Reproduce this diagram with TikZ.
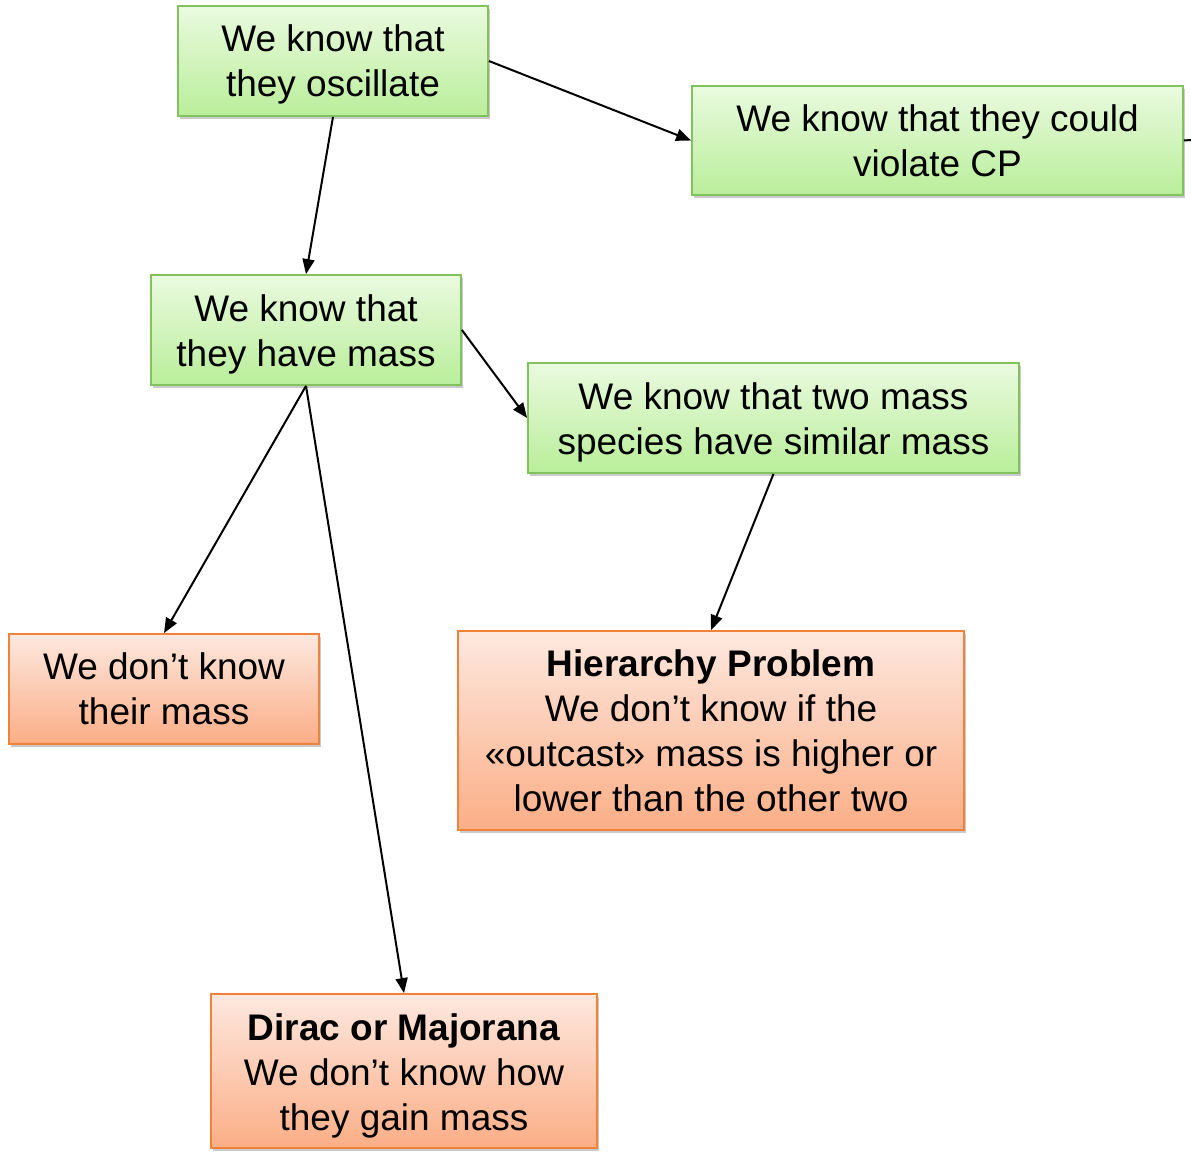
\documentclass[tikz,border=0pt]{standalone}
\usepackage{fontspec}
\setmainfont{Liberation Sans}
\usetikzlibrary{arrows.meta,shadows}
\definecolor{gtop}{HTML}{EAFADF}
\definecolor{gbot}{HTML}{B9EE9A}
\definecolor{gline}{HTML}{82C25E}
\definecolor{otop}{HTML}{FDE8DF}
\definecolor{obot}{HTML}{FBAE86}
\definecolor{oline}{HTML}{F0823A}
\tikzset{
  box/.style={draw, line width=1.8pt, align=center, inner sep=0pt,
    font=\fontsize{37}{45}\selectfont,
    drop shadow={shadow xshift=2pt, shadow yshift=-3pt, opacity=0.35, fill=black!60}},
  gbox/.style={box, draw=gline, top color=gtop, bottom color=gbot},
  obox/.style={box, draw=oline, top color=otop, bottom color=obot},
  arr/.style={-{Triangle[length=15pt,width=12pt]}, line width=2pt, black},
}
\begin{document}
\begin{tikzpicture}[x=1pt,y=-1pt]
\useasboundingbox (0,0) rectangle (1191,1153);
\node[gbox, minimum width=310pt, text height=91pt, text depth=19pt] (osc) at (333,61) {We know that\\they oscillate};
\node[gbox, minimum width=491pt, minimum height=109pt] (cp) at (937.5,140.5) {We know that they could\\violate CP};
\node[gbox, minimum width=310pt, text height=91pt, text depth=19pt] (mass) at (306,330) {We know that\\they have mass};
\node[gbox, minimum width=491pt, text height=91pt, text depth=19pt] (two) at (773.5,418) {We know that two mass\\species have similar mass};
\node[obox, minimum width=310pt, minimum height=110pt] (their) at (164,689) {We don’t know\\their mass};
\node[obox, minimum width=506pt, minimum height=199pt] (hier) at (711,730.5) {\textbf{Hierarchy Problem}\\We don’t know if the\\«outcast» mass is higher or\\lower than the other two};
\node[obox, minimum width=386pt, text height=136.5pt, text depth=17.5pt] (dirac) at (404,1071) {\textbf{Dirac or Majorana}\\We don’t know how\\they gain mass};
\coordinate (stub) at (1191,140);
\draw[arr] (osc.south) -- (mass.north);
\draw[arr] (osc.east) -- (cp.west);
\draw[line width=2pt] (cp.east) -- (stub);
\draw[arr] (mass.east) -- (two.west);
\draw[arr] (mass.south) -- (their.north);
\draw[arr] (mass.south) -- (dirac.north);
\draw[arr] (two.south) -- (hier.north);
\end{tikzpicture}
\end{document}
